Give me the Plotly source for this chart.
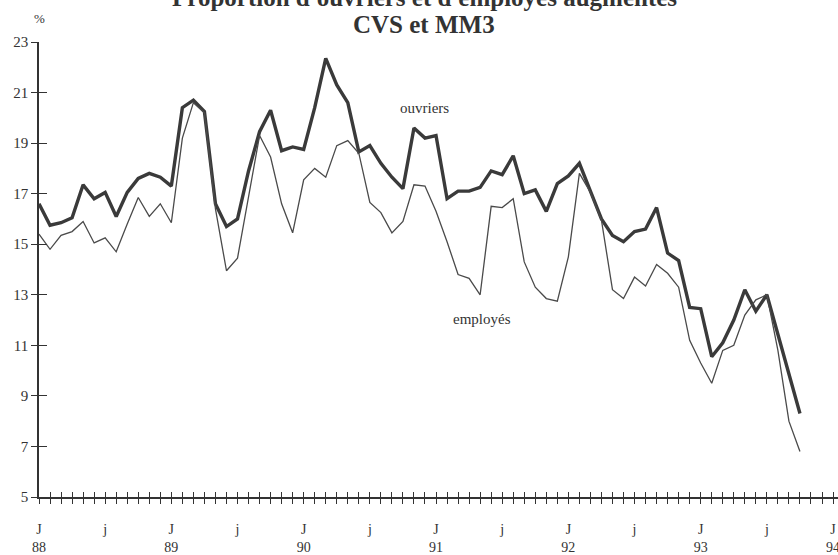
import plotly.graph_objects as go

months = list(range(70))  # Jan 1988 .. Oct 1993 (month index)

ouvriers = [16.6, 15.75, 15.85, 16.05, 17.35, 16.8, 17.05, 16.1, 17.05, 17.6, 17.8, 17.65,
            17.3, 20.4, 20.7, 20.25, 16.6, 15.7, 16.0, 17.9, 19.45, 20.3, 18.7, 18.85,
            18.75, 20.4, 22.35, 21.3, 20.6, 18.65, 18.9, 18.2, 17.65, 17.2, 19.6, 19.2,
            19.3, 16.8, 17.1, 17.1, 17.25, 17.9, 17.75, 18.5, 17.0, 17.15, 16.3, 17.4,
            17.7, 18.2, 17.1, 16.0, 15.35, 15.1, 15.5, 15.6, 16.45, 14.65, 14.35, 12.5,
            12.45, 10.55, 11.1, 12.0, 13.2, 12.35, 13.0, 11.4, 9.9, 8.3]

employes = [15.4, 14.8, 15.35, 15.5, 15.9, 15.05, 15.25, 14.7, 15.8, 16.85, 16.1, 16.6,
            15.85, 19.2, 20.6, 20.2, 16.4, 13.95, 14.45, 16.9, 19.3, 18.45, 16.6, 15.45,
            17.55, 18.0, 17.65, 18.9, 19.1, 18.6, 16.65, 16.25, 15.45, 15.9, 17.35, 17.3,
            16.3, 15.1, 13.8, 13.65, 13.0, 16.5, 16.45, 16.8, 14.3, 13.3, 12.85, 12.75,
            14.5, 17.8, 17.05, 15.95, 13.2, 12.85, 13.7, 13.35, 14.2, 13.85, 13.3, 11.2,
            10.3, 9.5, 10.8, 11.0, 12.2, 12.8, 13.0, 10.8, 8.0, 6.8]

y_ticks = [5, 7, 9, 11, 13, 15, 17, 19, 21, 23]
year_labels = ["88", "89", "90", "91", "92", "93", "94"]

label_vals = []
label_text = []
for m in range(73):
    if m % 12 == 0:
        label_vals.append(m)
        label_text.append("J<br>" + year_labels[m // 12])
    elif m % 12 == 6:
        label_vals.append(m)
        label_text.append("j")

ink = "#333333"
serif = "Liberation Serif, Times New Roman, serif"

fig = go.Figure()
# thick line: ouvriers (base axes)
fig.add_trace(go.Scatter(x=months, y=ouvriers, mode="lines", xaxis="x", yaxis="y",
                         line=dict(color="#3a3a3a", width=3.4), hoverinfo="skip"))
# thin line: employés (overlay axes carrying the inner ticks)
fig.add_trace(go.Scatter(x=months, y=employes, mode="lines", xaxis="x2", yaxis="y2",
                         line=dict(color="#4a4a4a", width=1.3), hoverinfo="skip"))
# empty trace so the label axis is drawn
fig.add_trace(go.Scatter(x=[], y=[], mode="lines", xaxis="x3", yaxis="y",
                         hoverinfo="skip"))

xr = [0, 72.45]
yr = [5, 23]

fig.update_layout(
    width=838, height=555,
    margin=dict(l=39, r=0, t=42, b=58),
    paper_bgcolor="white", plot_bgcolor="white",
    showlegend=False,
    font=dict(family=serif, color=ink),
    xaxis=dict(range=xr, dtick=1, tick0=0, ticks="outside", ticklen=5, tickwidth=1.3,
               tickcolor=ink, showticklabels=False, showline=True, linecolor=ink,
               linewidth=1.6, showgrid=False, zeroline=False, automargin=False),
    xaxis2=dict(range=xr, overlaying="x", anchor="y2", dtick=1, tick0=0, ticks="inside",
                ticklen=5, tickwidth=1.3, tickcolor=ink, showticklabels=False,
                showline=False, showgrid=False, zeroline=False, automargin=False),
    xaxis3=dict(range=xr, overlaying="x", anchor="y", tickvals=label_vals,
                ticktext=label_text, ticks="outside", ticklen=19,
                tickcolor="rgba(0,0,0,0)", showline=False, showgrid=False,
                zeroline=False, automargin=False, ticklabeloverflow="allow",
                tickfont=dict(size=14, family=serif, color=ink)),
    yaxis=dict(range=yr, tickvals=y_ticks, ticks="outside", ticklen=6, tickwidth=1.3,
               tickcolor=ink, showline=True, linecolor=ink, linewidth=1.6,
               showgrid=False, zeroline=False, automargin=False,
               tickfont=dict(size=15, family=serif, color=ink)),
    yaxis2=dict(range=yr, overlaying="y", anchor="x2", tickvals=y_ticks, ticks="inside",
                ticklen=8, tickwidth=1.3, tickcolor=ink, showticklabels=False,
                showline=False, showgrid=False, zeroline=False, automargin=False),
)

fig.add_annotation(text="<b>Proportion d'ouvriers et d'employés augmentés</b>",
                   xref="paper", yref="paper", x=0.482, y=1.098, showarrow=False,
                   font=dict(size=25, family=serif, color=ink), yanchor="middle")
fig.add_annotation(text="<b>CVS et MM3</b>",
                   xref="paper", yref="paper", x=0.482, y=1.038, showarrow=False,
                   font=dict(size=25, family=serif, color=ink), yanchor="middle")
fig.add_annotation(text="%", xref="paper", yref="paper", x=0.001, y=1.052,
                   xanchor="center", yanchor="middle", showarrow=False,
                   font=dict(size=13, family=serif, color=ink))
fig.add_annotation(text="ouvriers", x=35, y=20.4, showarrow=False,
                   font=dict(size=15, family=serif, color=ink))
fig.add_annotation(text="employés", x=40.2, y=12.05, showarrow=False,
                   font=dict(size=15, family=serif, color=ink))

fig.write_html("out.html", config={"displayModeBar": False},
               post_script="document.body.style.margin='0';"
                           "document.body.style.overflow='hidden';")
